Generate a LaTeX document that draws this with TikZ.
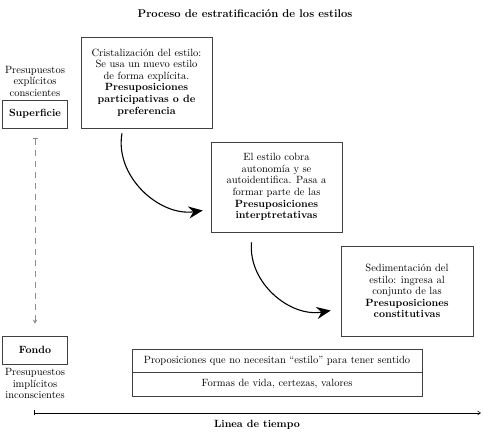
\documentclass[tikz,border=0pt]{standalone}
\usetikzlibrary{arrows.meta,positioning}

\begin{document}
\begin{tikzpicture}[
  x=1pt, y=1pt,
  font=\fontsize{10.5}{11.6}\selectfont,
  box/.style={draw=black!75, line width=0.6pt, align=center, inner sep=2pt},
  label/.style={align=center, inner sep=1pt},
  flow/.style={-{Stealth[length=14pt,width=12pt]}, line width=1.1pt},
  depth/.style={{Bar[width=5pt]}-{Stealth[length=4pt,width=4.5pt]}, dash pattern=on 6pt off 5pt, draw=black!45, line width=0.6pt},
  timeline/.style={{Bar[width=5pt]}-{Straight Barb[length=3pt,width=4pt]}, line width=0.5pt}
]
\useasboundingbox (0,0) rectangle (483,433);

\node[label, font=\fontsize{11.2}{13}\selectfont] (title) at (245,419) {\textbf{Proceso de estratificación de los estilos}};

% niveles
\node[box, minimum width=65pt, minimum height=28pt] (sup) at (35,319) {\textbf{Superficie}};
\node[label, above=2pt of sup] (expl) {Presupuestos\\explícitos\\conscientes};
\node[box, minimum width=65pt, minimum height=28pt] (fondo) at (35,83) {\textbf{Fondo}};
\node[label, below=3pt of fondo] (impl) {Presupuestos\\implícitos\\inconscientes};

% etapas
\node[box, minimum width=131pt, minimum height=91pt] (cris) at (146.5,350.5)
  {Cristalización del estilo:\\Se usa un nuevo estilo\\de forma explícita.\\\textbf{Presuposiciones}\\\textbf{participativas o de}\\\textbf{preferencia}};
\node[box, minimum width=131pt, minimum height=90pt] (auto) at (276.5,246)
  {El estilo cobra\\autonomía y se\\autoidentifica. Pasa a\\formar parte de las\\\textbf{Presuposiciones}\\\textbf{interptretativas}};
\node[box, minimum width=132pt, minimum height=90pt] (sedi) at (407,142)
  {Sedimentación del\\estilo: ingresa al\\conjunto de las\\\textbf{Presuposiciones}\\\textbf{constitutivas}};

\node[box, minimum width=290pt, minimum height=23pt] (prop) at (277,72.5)
  {Proposiciones que no necesitan “estilo” para tener sentido};
\node[box, minimum width=290pt, minimum height=24pt] (formas) at (277,49)
  {Formas de vida, certezas, valores};

\draw[flow] ([xshift=-24.5pt,yshift=-5pt]cris.south) to[out=-100,in=188] ([xshift=-8pt,yshift=-23.5pt]auto.west);
\draw[flow] ([xshift=-25pt,yshift=-10pt]auto.south) to[out=-95,in=190] ([xshift=-10pt,yshift=-19.5pt]sedi.west);

\draw[depth, shorten <=10pt, shorten >=12pt] (sup) -- (fondo);

% linea de tiempo
\coordinate (t0) at (34,20);
\coordinate (t1) at (481,20);
\draw[timeline] (t0) -- (t1);
\node[label] (tiempo) at (257,8) {\textbf{Linea de tiempo}};
\end{tikzpicture}
\end{document}
